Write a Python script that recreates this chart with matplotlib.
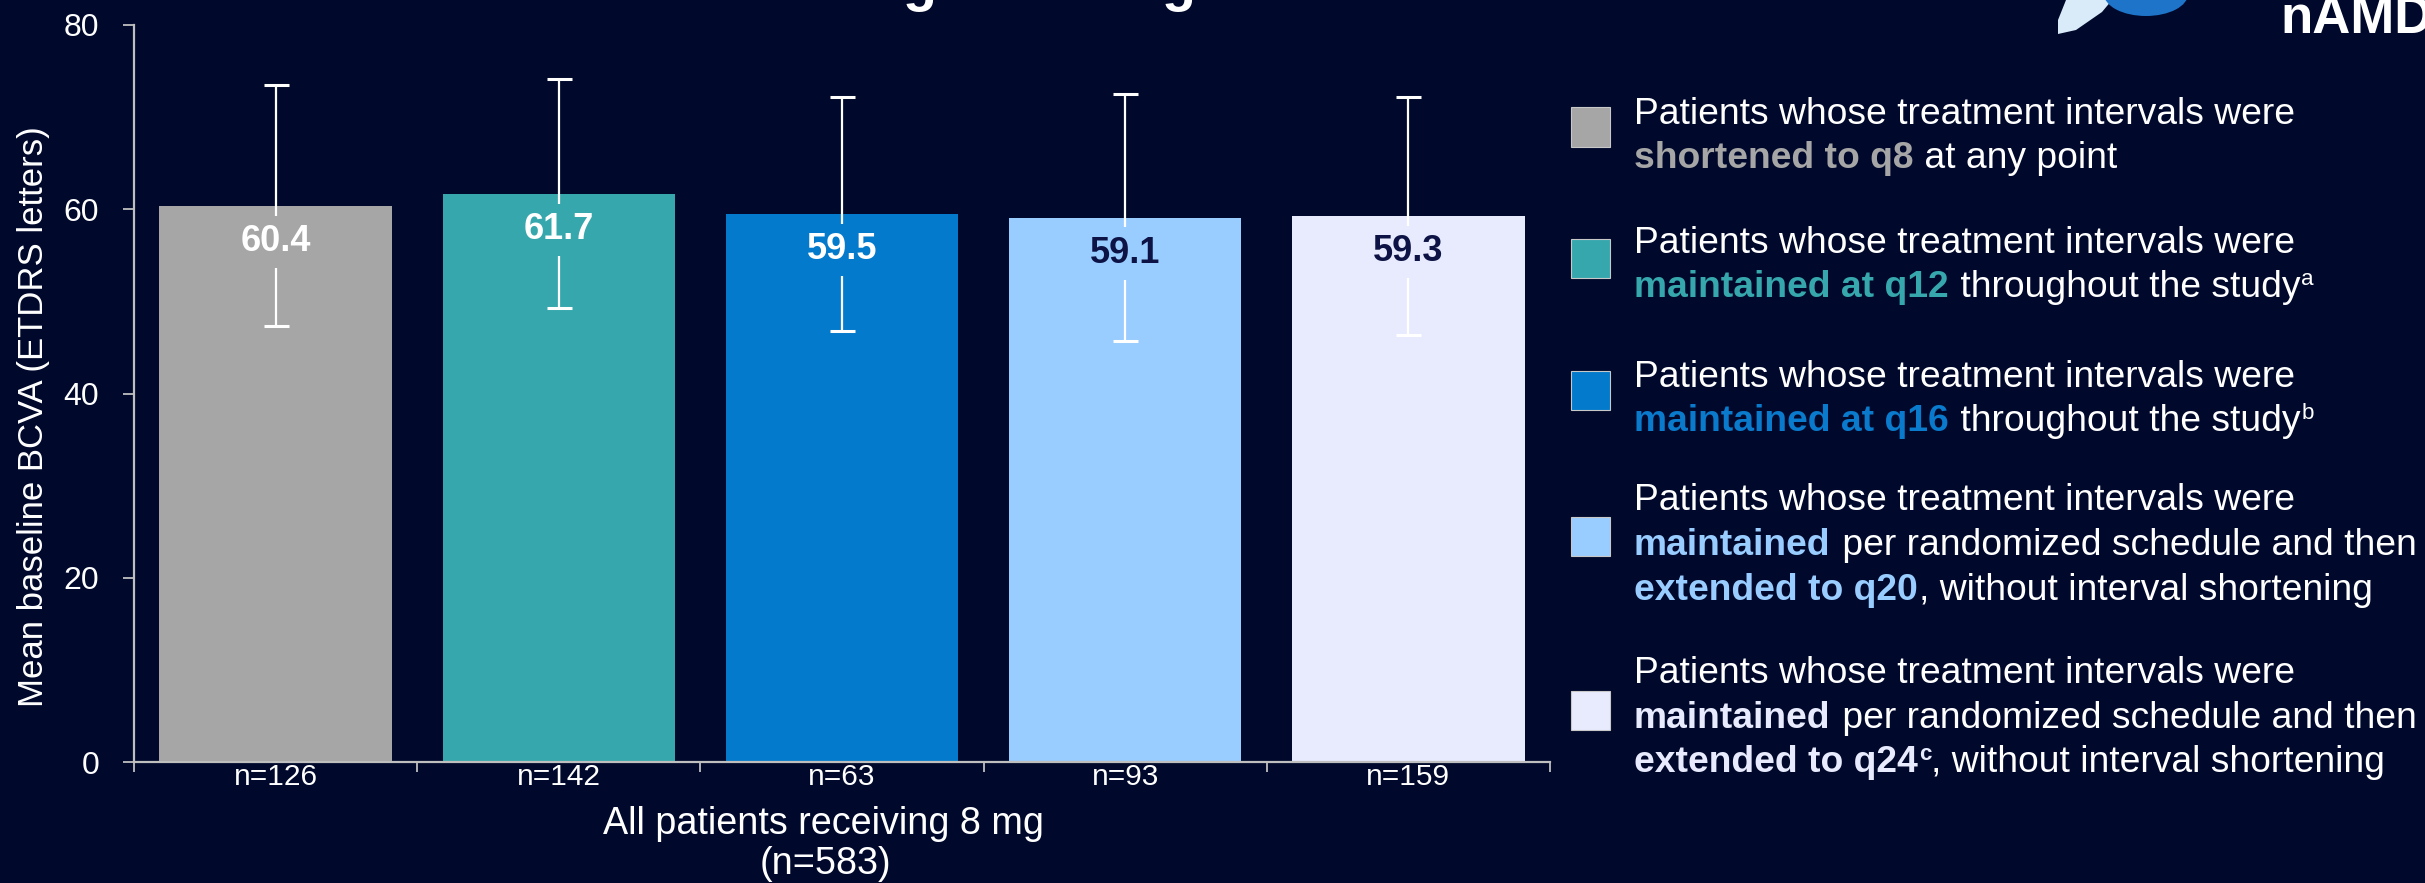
import matplotlib
matplotlib.use("Agg")
import matplotlib.pyplot as plt
from matplotlib.patches import Rectangle, Ellipse, Polygon
import numpy as np

# ---- data -------------------------------------------------------------
group_labels = ["n=126", "n=142", "n=63", "n=93", "n=159"]
mean_bcva = [60.4, 61.7, 59.5, 59.1, 59.3]
sd_bcva = [13.1, 12.4, 12.7, 13.4, 12.9]
y_ticks = [0, 20, 40, 60, 80]
y_label = "Mean baseline BCVA (ETDRS letters)"
x_label_lines = ["All patients receiving 8 mg", "(n=583)"]

# ---- styling ----------------------------------------------------------
W, H, DPI = 2425, 883, 100
BG = "#00082B"
AXIS_GRAY = "#BFBFBF"
bar_colors = ["#A6A6A6", "#36A8AD", "#037ACB", "#99CCFF", "#E8EBFD"]
value_colors = ["white", "white", "white", "#0D1445", "#0D1445"]
FONT = ["Liberation Sans", "DejaVu Sans"]

plt.rcParams["font.family"] = FONT

fig = plt.figure(figsize=(W / DPI, H / DPI), dpi=DPI, facecolor=BG)


def fx(px):
    return px / W


def fy(py):
    return 1 - py / H


# ---- bar chart --------------------------------------------------------
ax = fig.add_axes([fx(134), fy(762), fx(1550) - fx(134), fy(25) - fy(762)])
ax.set_facecolor(BG)
x = np.arange(len(mean_bcva))
ax.bar(x, mean_bcva, width=0.82, color=bar_colors, zorder=2)
ax.errorbar(x, mean_bcva, yerr=sd_bcva, fmt="none", ecolor="white",
            elinewidth=1.6, capsize=9, capthick=2.2, zorder=3)

for xi, m, bc, vc in zip(x, mean_bcva, bar_colors, value_colors):
    ax.annotate(f"{m:.1f}", (xi, m), xytext=(0, -26), textcoords="offset points",
                ha="center", va="center", fontsize=26, fontweight="bold", color=vc,
                bbox=dict(boxstyle="square,pad=0.24", fc=bc, ec="none"), zorder=4)

ax.set_xlim(-0.5, len(mean_bcva) - 0.5)
ax.set_ylim(y_ticks[0], y_ticks[-1])
for side in ("top", "right"):
    ax.spines[side].set_visible(False)
for side in ("left", "bottom"):
    ax.spines[side].set_color(AXIS_GRAY)
    ax.spines[side].set_linewidth(1.6)

ax.set_yticks(y_ticks)
ax.tick_params(axis="y", direction="out", length=8, width=1.3, color=AXIS_GRAY,
               labelsize=23, labelcolor="white", pad=17)
ax.set_xticks(x)
ax.set_xticklabels(group_labels)
ax.set_xticks(np.arange(-0.5, len(mean_bcva)), minor=True)
ax.tick_params(axis="x", which="major", length=0, labelsize=21.5,
               labelcolor="white", pad=1)
ax.tick_params(axis="x", which="minor", direction="out", length=7.5, width=1.3,
               color=AXIS_GRAY)

fig.text(fx(34), fy(417), y_label, rotation=90, ha="center", va="center",
         fontsize=25, color="white")
fig.text(fx(823), fy(824), x_label_lines[0], ha="center", va="center",
         fontsize=27.2, color="white")
fig.text(fx(825), fy(864), x_label_lines[1], ha="center", va="center",
         fontsize=27.2, color="white")

# ---- legend with mixed-style text --------------------------------------
renderer = fig.canvas.get_renderer()
LEG_FS = 26.8
WHITE = "white"
legend_items = [
    (127, [124, 168], [
        [("Patients whose treatment intervals were", WHITE, False, False)],
        [("shortened to q8", bar_colors[0], True, False),
         (" at any point", WHITE, False, False)],
    ]),
    (258, [253, 297], [
        [("Patients whose treatment intervals were", WHITE, False, False)],
        [("maintained at q12", bar_colors[1], True, False),
         (" throughout the study", WHITE, False, False),
         ("a", WHITE, False, True)],
    ]),
    (391, [387, 431], [
        [("Patients whose treatment intervals were", WHITE, False, False)],
        [("maintained at q16", "#0A7ACC", True, False),
         (" throughout the study", WHITE, False, False),
         ("b", WHITE, False, True)],
    ]),
    (536, [510, 555, 600], [
        [("Patients whose treatment intervals were", WHITE, False, False)],
        [("maintained", bar_colors[3], True, False),
         (" per randomized schedule and then", WHITE, False, False)],
        [("extended to q20", bar_colors[3], True, False),
         (", without interval shortening", WHITE, False, False)],
    ]),
    (710, [683, 728, 772], [
        [("Patients whose treatment intervals were", WHITE, False, False)],
        [("maintained", bar_colors[4], True, False),
         (" per randomized schedule and then", WHITE, False, False)],
        [("extended to q24", bar_colors[4], True, False),
         ("c", bar_colors[4], True, True),
         (", without interval shortening", WHITE, False, False)],
    ]),
]

SQ = 39
for (sq_center, baselines, lines), color in zip(legend_items, bar_colors):
    fig.add_artist(Rectangle((fx(1571), fy(sq_center + SQ / 2)), SQ / W, SQ / H,
                             transform=fig.transFigure, facecolor=color,
                             edgecolor="#C8C8C8", linewidth=0.8))
    for base, runs in zip(baselines, lines):
        xpos = 1634
        for s, c, bold, sup in runs:
            size = LEG_FS * 0.6 if sup else LEG_FS
            yb = base - 12 if sup else base
            t = fig.text(fx(xpos), fy(yb), s, fontsize=size, color=c,
                         fontweight="bold" if bold else "normal",
                         ha="left", va="baseline")
            xpos += t.get_window_extent(renderer).width + (1 if not sup else 0)

# ---- header remnants ---------------------------------------------------
for gx in (920, 1179):
    fig.text(fx(gx), 1.0, "g", ha="center", va="baseline", fontsize=40,
             fontweight="bold", color="white")
fig.text(fx(2280), fy(33), "nAMD", ha="left", va="baseline", fontsize=38,
         fontweight="bold", color="white")
fig.add_artist(Polygon([(fx(2066), fy(0)), (fx(2112), fy(0)), (fx(2102), fy(12)),
                        (fx(2076), fy(30)), (fx(2058), fy(34)), (fx(2058), fy(20))],
                       closed=True, transform=fig.transFigure,
                       facecolor="#D9EAF8", edgecolor="none"))
fig.add_artist(Ellipse((fx(2146), fy(-6)), 84 / W, 44 / H, transform=fig.transFigure,
                       facecolor="#1E74C8", edgecolor="none"))

fig.savefig("out.png", dpi=DPI, facecolor=BG)
